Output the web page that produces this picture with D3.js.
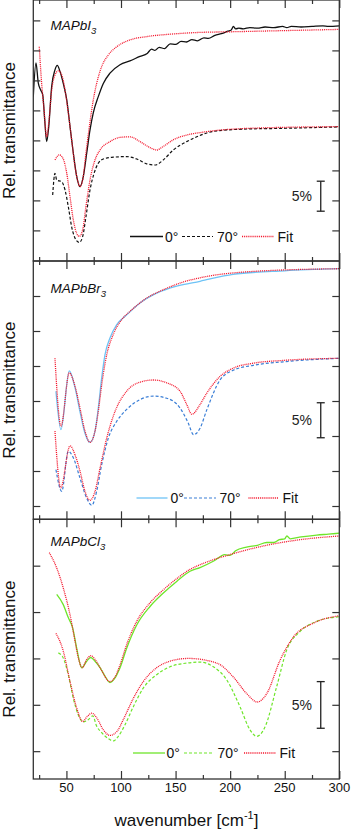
<!DOCTYPE html>
<html><head><meta charset="utf-8">
<script src="https://cdn.jsdelivr.net/npm/d3@7"></script>
<style>
html,body{margin:0;padding:0;background:#fff;}
svg{display:block;font-family:Arial,"Liberation Sans",sans-serif;}
</style></head>
<body>
<svg id="chart" width="352" height="835"></svg>
<script>
// ---------- DATA (wavenumber cm^-1, relative transmittance %) ----------
const xMajorTicks = [50,100,150,200,250,300];
const xMinorTicks = [25,75,125,175,225,275];
const yTicksI  = [5,10,15,20,25,30,35,40];
const yTicksBr = [5,10,15,20,25,30,35];
const yTicksCl = [5,10,15,20,25];
const panelNames = ["MAPbI", "MAPbBr", "MAPbCl"];
const legendLabels = ["0°", "70°", "Fit"];

const pbI_0 = [[19.65,27.3],[22.1,32.9],[24.2,29.6],[26.4,28.4],[28.3,27.6],[30.1,23.4],[31.9,19.8],[33.8,22.3],[36.5,29.0],[39.5,31.75],[41.6,32.5],[44.1,31.5],[47.1,29.5],[50.3,26.75],[53.3,22.3],[56.3,17.9],[59.4,14.0],[62.4,12.3],[65.5,14.0],[68.6,17.9],[71.6,21.75],[74.6,24.6],[79.2,27.3],[83.8,29.5],[89.9,31.2],[99.1,32.6],[108.2,33.25],[117.4,34.0],[124,34.5],[128,35.2],[131,35.0],[135,35.5],[140,35.3],[145,36.1],[150,36.0],[155,36.5],[160,36.4],[165,36.8],[170,36.6],[176,37.1],[180,37.0],[186,37.5],[192,37.8],[198,38.2],[201,38.4],[203,39.0],[205,38.6],[208,38.7],[212,38.6],[218,38.8],[225,38.7],[232,38.9],[240,38.8],[248,39.0],[252,38.8],[256,39.0],[265,38.9],[275,39.0],[285,39.1],[290,39.0],[300,39.1]];
const pbI_fit0 = [[25.1,35.6],[27.3,29.5],[29.5,25.1],[31.9,20.6],[33.8,22.9],[36.5,28.4],[39.5,30.9],[42.6,31.6],[45.7,30.9],[48.7,28.4],[51.7,24.6],[54.8,20.1],[57.9,15.6],[60.9,12.9],[62.4,12.3],[64.9,13.4],[67.9,17.9],[71.0,22.3],[74.6,26.75],[77.7,29.5],[82.3,32.3],[88.4,34.25],[96.1,35.6],[108.2,36.75],[123.5,37.3],[144.9,37.7],[172.4,38.0],[199.9,38.1],[250,38.3],[300,38.5]];
const pbI_70 = [[37.4,10.9],[39.5,14.5],[41.1,13.4],[45.7,13.1],[48.7,11.75],[51.7,9.0],[54.8,5.6],[58.8,3.4],[61.8,3.0],[64.9,4.0],[67.9,7.3],[71.6,11.75],[75.3,14.5],[79.2,16.2],[83.8,16.9],[92.9,17.2],[105.2,17.3],[114.4,16.9],[123.5,16.1],[131.1,15.9],[138.8,16.75],[147.9,18.4],[160.2,19.8],[169.4,20.6],[184.6,21.5],[215.2,21.9],[245.7,22.0],[300,22.25]];
const pbI_fit70 = [[39.5,16.75],[43.5,17.6],[47.1,16.9],[50.3,14.5],[53.3,10.6],[56.3,6.75],[59.4,4.5],[61.8,4.0],[64.9,5.1],[67.9,9.0],[71.6,13.4],[76.2,16.75],[80.8,18.4],[89.9,19.8],[99.1,20.5],[108.2,20.6],[117.4,19.8],[126.6,18.8],[132.7,18.4],[138.8,19.0],[147.9,20.1],[160.2,20.9],[172.4,21.3],[184.6,21.6],[215.2,22.0],[300,22.3]];

const pbBr_0 = [[40.4,21.4],[45.0,15.9],[52.6,24.3],[57.9,21.9],[62.4,18.5],[67.0,15.4],[71.6,14.1],[76.2,15.7],[79.2,19.0],[82.3,23.3],[85.3,26.6],[89.9,29.0],[96.1,30.9],[105.2,32.3],[117.4,34.0],[132.7,35.4],[151.0,36.4],[172.4,37.1],[202.6,38.1],[250,38.6],[300,38.9]];
const pbBr_fit0 = [[39.5,26.1],[45.0,16.4],[52.6,24.0],[57.9,22.1],[62.4,19.0],[67.0,15.7],[71.6,14.1],[76.2,15.7],[79.2,18.5],[82.3,22.3],[86.9,26.6],[92.9,29.5],[102.1,31.9],[108.2,32.8],[123.5,34.7],[138.8,35.9],[157.1,37.0],[172.4,37.6],[220,38.5],[300,38.9]];
const pbBr_70 = [[40.4,10.2],[45.7,7.1],[51.7,12.8],[56.3,11.9],[62.4,9.0],[68.6,6.1],[73.2,5.1],[77.7,7.1],[82.3,10.9],[88.4,14.7],[96.1,17.1],[105.2,18.8],[117.4,20.2],[129.6,20.7],[141.9,20.4],[154.1,19.0],[161.5,16.9],[166.5,15.2],[172.4,16.1],[178.5,18.7],[190.7,23.0],[202.9,24.4],[221.2,25.1],[248.7,25.6],[300,26.1]];
const pbBr_fit70 = [[39.5,15.7],[44.8,7.6],[53.3,13.6],[57.9,12.3],[62.4,10.0],[67.0,7.1],[71.6,5.8],[76.2,7.1],[80.8,10.4],[86.9,14.7],[94.5,18.5],[105.2,21.4],[117.4,22.7],[129.6,23.0],[141.9,22.6],[154.1,21.4],[160.2,19.5],[165.0,18.1],[172.4,19.5],[178.5,21.1],[190.7,23.5],[202.9,24.7],[221.2,25.4],[248.7,25.8],[300,26.1]];

const pbCl_0 = [[41.1,21.9],[47.1,20.8],[51.7,19.4],[55.7,18.3],[59.4,16.1],[64.0,14.0],[68.6,14.7],[72.2,15.1],[76.2,14.7],[80.8,14.0],[85.3,13.1],[89.9,12.4],[94.5,12.9],[99.1,14.0],[105.2,16.1],[114.4,18.6],[126.6,20.6],[138.8,22.05],[151.0,23.3],[163.2,24.4],[172.4,24.8],[185,25.5],[195,26.2],[200,26.1],[205,26.6],[215,27.0],[225,27.2],[233.5,27.5],[240,27.5],[245,27.8],[250,27.9],[252,28.2],[255,27.9],[265,28.1],[279.3,28.3],[290,28.4],[300,28.5]];
const pbCl_fit0 = [[34.3,26.4],[41.1,24.75],[47.1,22.6],[53.3,19.7],[57.9,16.85],[60.9,15.05],[64.5,14.0],[68.6,14.9],[72.5,15.3],[76.2,14.9],[80.8,14.0],[89.9,12.5],[94.5,13.0],[99.1,14.3],[105.2,16.5],[114.4,19.0],[126.6,21.0],[138.8,22.4],[151.0,23.6],[163.2,24.6],[172.4,25.1],[202.9,26.3],[233.5,27.2],[264.0,27.8],[300,28.2]];
const pbCl_70 = [[42.6,15.6],[47.1,15.05],[51.7,13.25],[56.3,10.7],[60.9,8.9],[65.5,8.15],[70.0,8.4],[74.1,8.8],[77.7,7.7],[82.3,7.0],[88.4,6.35],[92.9,6.1],[97.5,6.6],[103.7,7.85],[111.3,9.8],[120.4,11.8],[132.7,13.25],[144.9,14.1],[160.2,14.5],[172.4,14.6],[184.6,14.1],[196.8,12.7],[209.0,9.8],[218.2,7.3],[224.3,6.6],[231.9,7.6],[242.6,11.95],[251.8,15.9],[264.0,17.9],[279.3,19.0],[300,19.5]];
const pbCl_fit70 = [[40.4,17.7],[47.1,15.8],[53.3,12.5],[59.4,9.65],[64.9,8.2],[69.1,8.75],[73.2,9.1],[77.7,8.6],[83.8,7.3],[89.9,6.7],[96.1,7.1],[102.1,8.4],[111.3,10.7],[120.4,12.5],[132.7,14.0],[144.9,14.7],[161.7,15.0],[187.7,14.5],[202.9,13.0],[215.2,11.2],[224.9,10.3],[233.5,11.2],[245.7,14.8],[257.9,17.3],[276.2,18.8],[300,19.6]];

// ---------- LAYOUT ----------
const svg = d3.select("#chart");
const X0 = 33.3, X1 = 339.3;
const x = d3.scaleLinear().domain([19.65, 300]).range([X0, X1]);

const panels = [
  { top: 0, bottom: 261, dom: [-0.1, 43.4], ticks: yTicksI, sub: "3",
    c0: "#111", c70: "#111", data: [pbI_0, pbI_70, pbI_fit0, pbI_fit70],
    labelY: 29.5, bar: [8.2, 13.2], legY: 236.5, leg: [130, 163, 165, 182, 213, 217, 242, 274, 277.5] },
  { top: 261, bottom: 519.3, dom: [3.1, 40], ticks: yTicksBr, sub: "3",
    c0: "#6ec3f6", c70: "#3a7ed6", data: [pbBr_0, pbBr_70, pbBr_fit0, pbBr_fit70],
    labelY: 292.5, bar: [14.75, 19.75], legY: 498, leg: [136.5, 167.5, 170.5, 184, 216, 219.5, 248.5, 278.5, 282.5] },
  { top: 519.3, bottom: 779, dom: [2.0, 30], ticks: yTicksCl, sub: "3",
    c0: "#6ee52a", c70: "#6ee52a", data: [pbCl_0, pbCl_70, pbCl_fit0, pbCl_fit70],
    labelY: 546, bar: [7.47, 12.5], legY: 753, leg: [133, 165, 166.5, 184, 212, 217.5, 244, 276, 279.5] }
];

const frameColor = "#333";
const redFit = "#f3162c";

panels.forEach((p, i) => {
  const y = d3.scaleLinear().domain(p.dom).range([p.bottom, p.top]);
  const g = svg.append("g");
  const line = d3.line().x(d => x(d[0])).y(d => y(d[1])).curve(d3.curveMonotoneX);

  const cid = "clip" + i;
  svg.append("clipPath").attr("id", cid).append("rect")
    .attr("x", X0).attr("y", p.top).attr("width", X1 - X0).attr("height", p.bottom - p.top);

  const curves = g.append("g").attr("clip-path", `url(#${cid})`);
  const styles = [
    { c: p.c0, dash: null, w: 1.3 },
    { c: p.c70, dash: "3,2", w: 1.2 },
    { c: redFit, dash: "1,0.9", w: 1.3 },
    { c: redFit, dash: "1,0.9", w: 1.3 }
  ];
  p.data.forEach((d, k) => {
    curves.append("path").datum(d).attr("d", line)
      .attr("fill", "none").attr("stroke", styles[k].c)
      .attr("stroke-width", styles[k].w)
      .attr("stroke-dasharray", styles[k].dash)
      .attr("stroke-linejoin", "round");
  });

  const axB = d3.axisBottom(x).tickValues(xMajorTicks).tickSize(-8).tickFormat("");
  const axBm = d3.axisBottom(x).tickValues(xMinorTicks).tickSize(-4).tickFormat("");
  const axT = d3.axisTop(x).tickValues(xMajorTicks).tickSize(-8).tickFormat("");
  const axTm = d3.axisTop(x).tickValues(xMinorTicks).tickSize(-4).tickFormat("");
  const axL = d3.axisLeft(y).tickValues(p.ticks).tickSize(-7).tickFormat("");
  const axR = d3.axisRight(y).tickValues(p.ticks).tickSize(-7).tickFormat("");
  [[axB, `translate(0,${p.bottom})`], [axBm, `translate(0,${p.bottom})`],
   [axT, `translate(0,${p.top})`], [axTm, `translate(0,${p.top})`],
   [axL, `translate(${X0},0)`], [axR, `translate(${X1},0)`]].forEach(([ax, tr]) => {
    const a = g.append("g").attr("transform", tr).call(ax);
    a.select(".domain").remove();
    a.selectAll("line").attr("stroke", frameColor).attr("stroke-width", 1.2);
  });
  g.append("rect").attr("x", X0).attr("y", p.top).attr("width", X1 - X0)
    .attr("height", p.bottom - p.top).attr("fill", "none")
    .attr("stroke", frameColor).attr("stroke-width", 1.3);

  const t = g.append("text").attr("x", 50.5).attr("y", p.labelY)
    .attr("font-size", 13.5).attr("font-style", "italic").attr("fill", "#111");
  t.append("tspan").text(panelNames[i]);
  t.append("tspan").text(p.sub).attr("font-size", 9.5).attr("dy", 4);

  const bx = x(283);
  const by0 = y(p.bar[0]), by1 = y(p.bar[1]);
  g.append("line").attr("x1", bx).attr("x2", bx).attr("y1", by0).attr("y2", by1)
    .attr("stroke", "#222").attr("stroke-width", 1.3);
  [by0, by1].forEach(v => g.append("line").attr("x1", bx - 4).attr("x2", bx + 4)
    .attr("y1", v).attr("y2", v).attr("stroke", "#222").attr("stroke-width", 1.3));
  g.append("text").attr("x", 312).attr("y", (by0 + by1) / 2 + 5)
    .attr("text-anchor", "end").attr("font-size", 14).attr("fill", "#222").text("5%");

  const L = p.leg, ly = p.legY;
  const segs = [[L[0], L[1], L[2]], [L[3], L[4], L[5]], [L[6], L[7], L[8]]];
  segs.forEach((s, k) => {
    g.append("line").attr("x1", s[0]).attr("x2", s[1]).attr("y1", ly).attr("y2", ly)
      .attr("stroke", styles[k].c).attr("stroke-width", styles[k].w)
      .attr("stroke-dasharray", styles[k].dash);
    g.append("text").attr("x", s[2]).attr("y", ly + 5).attr("font-size", 14)
      .attr("fill", "#111").text(legendLabels[k]);
  });

  svg.append("text").attr("transform", `translate(15,${(p.top + p.bottom) / 2}) rotate(-90)`)
    .attr("text-anchor", "middle").attr("font-size", 17).attr("fill", "#111")
    .text("Rel. transmittance");
});

svg.append("g").selectAll("text").data(xMajorTicks).join("text")
  .attr("x", d => x(d)).attr("y", 791.5).attr("text-anchor", "middle")
  .attr("font-size", 13).attr("fill", "#111").text(d => d);

const xl = svg.append("text").attr("x", 186.5).attr("y", 826).attr("text-anchor", "middle")
  .attr("font-size", 17).attr("fill", "#111");
xl.append("tspan").text("wavenumber [cm");
xl.append("tspan").text("-1").attr("font-size", 11).attr("dy", -7);
xl.append("tspan").text("]").attr("dy", 7);
</script>
</body></html>
